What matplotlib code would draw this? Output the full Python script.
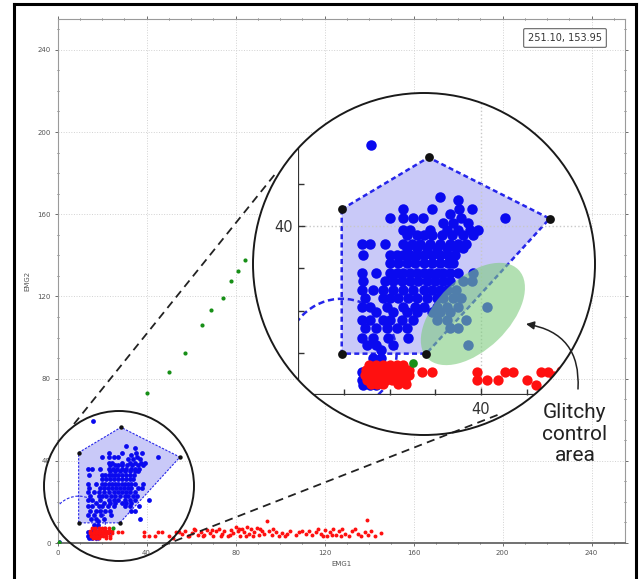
import numpy as np
import matplotlib
matplotlib.use('Agg')
import matplotlib.pyplot as plt
import matplotlib.transforms as mtransforms
from matplotlib.patches import Ellipse, Polygon, FancyArrowPatch
from matplotlib.lines import Line2D
from matplotlib.ticker import MultipleLocator, FixedLocator

# blue class, stored row by row: EMG2 value of the row, then the EMG1 values in it
blue_row_y = [59.2, 47.0, 46.2, 44.0, 43.0, 41.9, 40.8, 39.1, 37.9, 35.9, 34.8, 33.2,
              31.2, 28.8, 26.9, 24.9, 22.9, 20.9, 19.7, 17.8, 15.8, 13.4, 11.8, 10.7,
              8.7, 7.5, 5.5, 3.6, 2.4, 0.6]
blue_row_x = [
    [16.0],
    [31.0],
    [35.0],
    [23.0, 29.2, 35.2, 37.9],
    [33.2],
    [20.1, 23.0, 25.2, 27.2, 35.7, 45.2],
    [31.7, 33.9, 37.2],
    [23.0, 24.4, 28.8, 32.5, 35.0, 37.6, 39.4],
    [23.7, 25.9, 27.4, 29.2, 31.4, 33.6, 36.1, 38.3],
    [13.9, 15.7, 19.0, 23.0, 24.8, 26.6, 28.8, 31.0, 33.2, 35.0, 36.8],
    [23.7, 25.9, 28.1, 30.3, 32.5, 34.6, 36.1],
    [14.2, 20.1, 21.5, 23.0, 24.4, 25.9, 27.4, 29.2, 31.0, 32.8, 34.3],
    [20.1, 21.9, 23.7, 25.5, 27.4, 29.2, 31.0, 32.8, 33.9],
    [13.9, 17.1, 20.1, 21.5, 23.0, 24.4, 25.9, 27.4, 28.8, 30.3, 31.7, 33.2, 35.0, 38.3],
    [14.2, 19.0, 20.8, 22.6, 24.4, 26.3, 28.1, 29.9, 31.7, 33.2, 36.1, 37.9],
    [13.9, 16.4, 18.6, 20.8, 23.0, 25.2, 27.4, 29.2, 31.0, 32.5, 34.6],
    [14.6, 18.6, 20.1, 21.9, 24.1, 25.9, 28.1, 30.3, 31.7, 33.9, 35.7],
    [13.9, 15.7, 19.3, 23.0, 25.5, 27.4, 30.3, 32.5, 35.0, 41.2],
    [17.1, 20.8, 23.7, 25.9, 29.2, 31.0, 33.2],
    [13.9, 15.7, 18.6, 20.1, 22.6, 25.2, 30.3, 32.5, 36.8],
    [14.6, 17.1, 19.3, 21.5, 23.7, 33.2, 35.0],
    [13.9, 16.4, 19.7, 24.1],
    [15.0, 17.1, 20.8, 37.2],
    [18.2],
    [16.4, 18.2],
    [16.8],
    [13.9, 15.0, 16.0, 17.1, 18.2, 19.3, 21.5, 23.0],
    [13.9, 15.0, 16.0, 17.1, 18.2],
    [14.2, 15.7, 17.1],
    [0.6],
]

# red class
red_x = [15.5, 17.0, 18.5, 20.0, 21.5, 23.0,
         14.8, 16.2, 17.6, 19.0, 20.4, 21.8, 23.2, 24.3,
         14.5, 15.9, 17.3, 18.7, 20.1, 21.5, 22.9, 24.3,
         15.0, 16.4, 17.8, 19.2, 20.6, 22.0, 23.4,
         15.8, 17.2, 18.6, 21.8, 23.5,
         27.0, 29.2, 39.0, 39.0, 41.2, 43.8, 45.2, 47.0, 50.0, 52.1, 53.2, 54.6,
         56.0, 57.5, 59.0, 60.5, 62.0, 63.0, 64.5, 66.0, 67.0, 68.5, 70.0, 71.0,
         72.5, 74.0, 75.0, 76.5, 78.0, 79.0, 80.0, 81.0, 82.0, 83.0, 84.0, 85.0,
         86.0, 87.0, 88.5, 89.5, 90.5, 92.0, 93.0, 94.0, 95.0, 96.5, 98.0, 99.5,
         101.0, 103.0, 104.5, 107.0, 108.5, 111.5, 113.0, 114.5, 116.0, 117.0,
         118.5, 120.0, 121.0, 122.5, 124.0, 125.0, 126.5, 128.0, 129.0, 131.0,
         132.5, 135.0, 136.5, 138.0, 139.0, 139.5, 141.0, 142.5, 145.5,
         58.5, 61.5, 65.5, 69.5, 73.5, 77.5, 81.5, 84.5, 88.0, 91.0, 97.0, 102.0,
         110.0, 119.5, 123.5, 127.5, 133.5]
red_y = [7.2, 7.2, 7.2, 7.2, 7.2, 7.2,
         6.0, 6.0, 6.0, 6.0, 6.0, 6.0, 6.0, 6.0,
         4.8, 4.8, 4.8, 4.8, 4.8, 4.8, 4.8, 4.8,
         3.6, 3.6, 3.6, 3.6, 3.6, 3.6, 3.6,
         2.5, 2.5, 2.5, 2.5, 2.5,
         5.5, 5.5, 5.5, 3.6, 3.6, 3.6, 5.5, 5.5, 3.6, 2.4, 5.5, 5.5,
         4.5, 5.8, 3.6, 5.0, 6.2, 3.8, 5.2, 4.0, 6.5, 4.8, 3.4, 5.6,
         6.8, 4.4, 5.8, 3.6, 6.4, 4.8, 7.6, 5.6, 3.6, 6.8, 5.2, 8.0,
         4.2, 6.6, 5.4, 7.2, 3.8, 5.8, 4.4, 10.6, 6.0, 4.0, 5.4, 3.6,
         5.0, 4.2, 5.6, 4.0, 5.2, 4.6, 6.0, 3.8, 5.4, 7.0,
         4.4, 6.2, 3.6, 5.2, 6.8, 4.0, 5.8, 7.0, 4.6, 3.6,
         5.6, 4.4, 3.4, 5.2, 11.4, 4.0, 5.6, 3.6, 4.8,
         3.4, 6.6, 3.3, 6.2, 3.2, 4.0, 7.0, 3.4, 3.2, 6.8, 6.6, 3.2,
         5.8, 3.2, 4.0, 3.2, 6.8]

# green class
green_x = [84.2, 81.2, 78.0, 74.2, 69.1, 65.0, 57.1, 50.1, 40.0, 25.0, 0.5]
green_y = [137.8, 132.6, 127.7, 119.4, 113.4, 106.3, 92.4, 83.3, 73.2, 7.5, 0.5]

# control region of the blue class and the rest circle round its corner
hull_x = [9.5, 28.5, 55.0, 28.0, 9.5]
hull_y = [44.0, 56.3, 41.8, 9.8, 9.8]
rest_xy = (9.5, 9.8)
glitch_xy = (38.2, 19.2)
coord_text = '251.10, 153.95'

blue_x = np.concatenate([np.array(r) for r in blue_row_x])
blue_y = np.concatenate([[y] * len(r) for y, r in zip(blue_row_y, blue_row_x)])

BLUE = '#0a0aef'
RED = '#ff1010'
GREEN = '#178f17'

W, H = 643, 579
fig = plt.figure(figsize=(W / 100, H / 100), dpi=100)


def fx(px):
    return px / W


def fy(py):
    return 1 - py / H


def draw_data(ax, big):
    # same data for the full view and the magnified view
    k = 1.0 if big else 0.0
    arts = []
    arts.append(ax.add_patch(Polygon(np.column_stack([hull_x, hull_y]), closed=True,
                                     fc='#c9c9f8', ec='#2525ea', lw=0.8 + 1.0 * k,
                                     ls=(0, (2, 1.3)), zorder=1)))
    arts.append(ax.add_patch(Ellipse(rest_xy, 24, 26, fill=False, ec='#2525ea',
                                     lw=0.8 + 1.0 * k, ls=(0, (2.5, 1.5)), zorder=1)))
    arts.append(ax.scatter(blue_x, blue_y, s=12 + 45 * k, c=BLUE, lw=0, zorder=2))
    arts.append(ax.scatter(red_x, red_y, s=8 + 47 * k, c=RED, lw=0, zorder=3))
    arts.append(ax.scatter(green_x, green_y, s=9 + 30 * k, c=GREEN, lw=0, zorder=3))
    arts.append(ax.scatter(hull_x, hull_y, s=10 + 30 * k, c='#111111', lw=0, zorder=6))
    return arts


# ---- main view
ax = fig.add_axes([fx(57.5), fy(543), (625 - 57.5) / W, (543 - 19) / H], zorder=0)
draw_data(ax, False)
ax.set_xlim(0, 255)
ax.set_ylim(0, 255)
for a in (ax.xaxis, ax.yaxis):
    a.set_major_locator(MultipleLocator(40))
    a.set_minor_locator(MultipleLocator(10))
ax.tick_params(which='both', labelsize=5, colors='#555555', width=0.6, top=True, right=True)
ax.tick_params(which='major', direction='out', length=2.5, pad=2.5)
ax.tick_params(which='minor', direction='inout', length=2)
ax.grid(which='major', ls=':', color='#d2d2d2', lw=0.7)
ax.set_axisbelow(True)
for s in ax.spines.values():
    s.set_color('#9a9a9a')
    s.set_linewidth(0.8)
ax.spines['bottom'].set_color('#666666')
ax.spines['bottom'].set_linewidth(1.3)
ax.set_xlabel('EMG1', fontsize=5, color='#555555', labelpad=4)
ax.set_ylabel('EMG2', fontsize=5, color='#555555', labelpad=5)

# ---- magnifier circles
circ = Ellipse((fx(424), fy(264)), 2 * 171 / W, 2 * 171 / H, transform=fig.transFigure,
               fc='white', ec='none', zorder=1)
fig.add_artist(circ)
fig.add_artist(Ellipse((fx(424), fy(264)), 2 * 171 / W, 2 * 171 / H,
                       transform=fig.transFigure, fill=False, ec='#1a1a1a', lw=1.4, zorder=3))
fig.add_artist(Ellipse((fx(119), fy(486)), 150 / W, 150 / H, transform=fig.transFigure,
                       fill=False, ec='#1a1a1a', lw=1.4, zorder=1))

for (x0, y0), (x1, y1) in [((74, 424), (276, 173)), ((162, 546), (500, 414))]:
    fig.add_artist(Line2D([fx(x0), fx(x1)], [fy(y0), fy(y1)], transform=fig.transFigure,
                          color='#222222', lw=1.3, ls=(0, (4.5, 3)), zorder=1.5))

# ---- magnified view
ax2 = fig.add_axes([fx(298.3), fy(395), (596 - 298.3) / W, (395 - 93) / H], zorder=2)
ax2.patch.set_visible(False)
arts = draw_data(ax2, True)
glitch = Ellipse((0, 0), 1.27, 0.72, angle=44, fc='#7fcc7f', ec='none', alpha=0.6, zorder=5,
                 transform=fig.dpi_scale_trans +
                 mtransforms.ScaledTranslation(glitch_xy[0], glitch_xy[1], ax2.transData))
ax2.add_artist(glitch)
arts.append(glitch)
ax2.set_xlim(0, (596 - 298.3) / 4.57)
ax2.set_ylim(0, (395 - 93) / 4.22)
for a in (ax2.xaxis, ax2.yaxis):
    a.set_major_locator(FixedLocator([40]))
    a.set_minor_locator(FixedLocator([10, 20, 30, 50]))
ax2.tick_params(which='both', direction='in', color='#333333', width=1.0,
                labelsize=10.5, labelcolor='#333333')
ax2.tick_params(which='major', length=5)
ax2.tick_params(which='minor', length=4)
ax2.tick_params(axis='x', pad=5)
ax2.tick_params(axis='y', pad=4)
ax2.grid(which='major', ls=':', color='#c8c8c8', lw=1.0)
for s in ['top', 'right']:
    ax2.spines[s].set_visible(False)
for s in ['left', 'bottom']:
    ax2.spines[s].set_color('#333333')
    ax2.spines[s].set_linewidth(1.6)
    arts.append(ax2.spines[s])
arts += ax2.get_xgridlines() + ax2.get_ygridlines()
for a in arts:
    a.set_clip_path(circ)

# ---- annotations
fig.text(fx(575), fy(434), 'Glitchy\ncontrol\narea', ha='center', va='center',
         fontsize=15, family=['Roboto', 'DejaVu Sans'], linespacing=1.15, color='#222222',
         zorder=4)
fig.add_artist(FancyArrowPatch((fx(578), fy(389)), (fx(526), fy(324)),
                               transform=fig.transFigure, connectionstyle='arc3,rad=0.45',
                               arrowstyle='-|>', mutation_scale=12, lw=1.1,
                               color='#222222', shrinkA=0, shrinkB=0, zorder=4))
fig.text(fx(565), fy(38), coord_text, ha='center', va='center', fontsize=7, color='#333333',
         bbox=dict(boxstyle='round,pad=0.45,rounding_size=0.15', fc='white', ec='#777777',
                   lw=0.9))

# picture frame (open at the bottom)
for xs, ys in [([13.5, 13.5], [579, 3.5]), ([13.5, 636], [3.5, 3.5]), ([636, 636], [3.5, 579])]:
    fig.add_artist(Line2D([fx(v) for v in xs], [fy(v) for v in ys], transform=fig.transFigure,
                          color='black', lw=2.2, zorder=5))

fig.savefig('out.png', dpi=100)
